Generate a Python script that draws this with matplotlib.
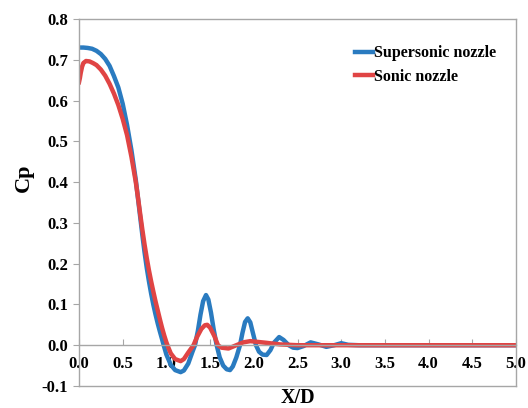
import numpy as np
import matplotlib
matplotlib.use('Agg')
import matplotlib.pyplot as plt

# Supersonic nozzle (blue)
x_super = [0.0, 0.05, 0.1, 0.15, 0.2, 0.25, 0.3, 0.35, 0.4, 0.45, 0.5, 0.55,
           0.6, 0.65, 0.675, 0.7, 0.725, 0.75, 0.775, 0.8, 0.825, 0.85,
           0.875, 0.9, 0.925, 0.95, 0.965, 1.0, 1.05, 1.1, 1.163, 1.2, 1.25,
           1.3, 1.327, 1.36, 1.39, 1.42, 1.453, 1.48, 1.51, 1.54, 1.575,
           1.61, 1.65, 1.69, 1.728, 1.76, 1.8, 1.842, 1.87, 1.9, 1.93, 1.96,
           1.99, 2.025, 2.06, 2.1, 2.147, 2.19, 2.23, 2.29, 2.34, 2.4, 2.45,
           2.5, 2.57, 2.65, 2.74, 2.83, 2.92, 3.0, 3.08, 3.2, 3.5, 4.0, 4.5,
           5.0]
cp_super = [0.730, 0.730, 0.729, 0.727, 0.722, 0.714, 0.702, 0.685, 0.660,
            0.632, 0.592, 0.540, 0.478, 0.405, 0.360, 0.315, 0.270, 0.228,
            0.190, 0.157, 0.127, 0.100, 0.076, 0.054, 0.034, 0.015, 0.003,
            -0.023, -0.048, -0.061, -0.066, -0.062, -0.045, -0.015, 0.000,
            0.035, 0.075, 0.108, 0.123, 0.112, 0.080, 0.040, 0.000, -0.030,
            -0.050, -0.059, -0.061, -0.052, -0.030, 0.000, 0.030, 0.057,
            0.066, 0.056, 0.030, 0.000, -0.016, -0.023, -0.024, -0.012,
            0.006, 0.020, 0.013, 0.000, -0.006, -0.007, -0.002, 0.007,
            0.002, -0.004, 0.000, 0.005, 0.001, 0.000, 0.000, 0.000, 0.000,
            0.000]

# Sonic nozzle (red)
x_sonic = [0.0, 0.01, 0.02, 0.035, 0.05, 0.08, 0.12, 0.16, 0.2, 0.25, 0.3,
           0.35, 0.4, 0.45, 0.5, 0.55, 0.6, 0.65, 0.675, 0.7, 0.725, 0.75,
           0.775, 0.8, 0.825, 0.85, 0.875, 0.9, 0.925, 0.95, 0.975, 1.0,
           1.025, 1.05, 1.1, 1.163, 1.2, 1.25, 1.31, 1.35, 1.4, 1.44, 1.468,
           1.5, 1.55, 1.59, 1.63, 1.71, 1.8, 1.88, 1.96, 2.05, 2.14, 2.3,
           2.5, 3.0, 4.0, 5.0]
cp_sonic = [0.645, 0.655, 0.668, 0.683, 0.692, 0.697, 0.696, 0.692, 0.687,
            0.676, 0.661, 0.641, 0.617, 0.589, 0.555, 0.515, 0.462, 0.400,
            0.362, 0.322, 0.283, 0.247, 0.214, 0.184, 0.157, 0.132, 0.108,
            0.086, 0.064, 0.043, 0.024, 0.007, -0.007, -0.020, -0.034,
            -0.039, -0.034, -0.018, 0.000, 0.020, 0.040, 0.049, 0.050,
            0.043, 0.022, 0.000, -0.006, -0.008, 0.000, 0.007, 0.010, 0.008,
            0.006, 0.002, 0.000, 0.000, 0.000, 0.000]

x_ticks = [0.0, 0.5, 1.0, 1.5, 2.0, 2.5, 3.0, 3.5, 4.0, 4.5, 5.0]
y_ticks = [-0.1, 0.0, 0.1, 0.2, 0.3, 0.4, 0.5, 0.6, 0.7, 0.8]

plt.rcParams['font.family'] = ['Liberation Serif', 'DejaVu Serif']
plt.rcParams['font.weight'] = 'bold'

GRAY = '#a6a6a6'
BLUE = '#2a7bc0'
RED = '#e04444'

fig = plt.figure(figsize=(5.28, 4.08), dpi=100)
ax = fig.add_axes([79 / 528, 1 - 386 / 408, (516 - 79) / 528, (386 - 19) / 408])

ax.plot(x_super, cp_super, color=BLUE, lw=3.2, label='Supersonic nozzle',
        solid_joinstyle='round')
ax.plot(x_sonic, cp_sonic, color=RED, lw=3.2, label='Sonic nozzle',
        solid_joinstyle='round')

ax.set_xlim(0, 5)
ax.set_ylim(-0.1, 0.8)
ax.set_xticks(x_ticks)
ax.set_yticks(y_ticks)
ax.set_xticklabels([f'{v:.1f}' for v in x_ticks])
ax.set_yticklabels([f'{v:.1f}' for v in y_ticks])

# x axis sits on Cp = 0, box closed with a line at the bottom
ax.spines['bottom'].set_position(('data', 0))
for s in ax.spines.values():
    s.set_color(GRAY)
    s.set_linewidth(1.0)
ax.plot([0, 1], [0, 0], transform=ax.transAxes, color=GRAY, lw=1.0,
        clip_on=False)

ax.tick_params(axis='x', direction='in', length=4, color=GRAY,
               labelsize=12, pad=8)
ax.tick_params(axis='y', direction='out', length=4, color=GRAY,
               labelsize=12, pad=4)
for lab in ax.get_xticklabels() + ax.get_yticklabels():
    lab.set_fontweight('bold')

ax.set_xlabel('X/D', fontsize=14.5, fontweight='bold', va='baseline')
ax.xaxis.set_label_coords(0.5, -0.046)
ax.set_ylabel('Cp', fontsize=16, fontweight='bold')
ax.yaxis.set_label_coords(-0.103, 0.567)

ax.legend(loc='upper left', bbox_to_anchor=(0.613, 0.95), frameon=False,
          handlelength=1.15, handletextpad=0.05, borderpad=0, labelspacing=0.45,
          prop={'family': 'Liberation Serif', 'weight': 'bold', 'size': 11.5})

fig.savefig('out.png', dpi=100)
